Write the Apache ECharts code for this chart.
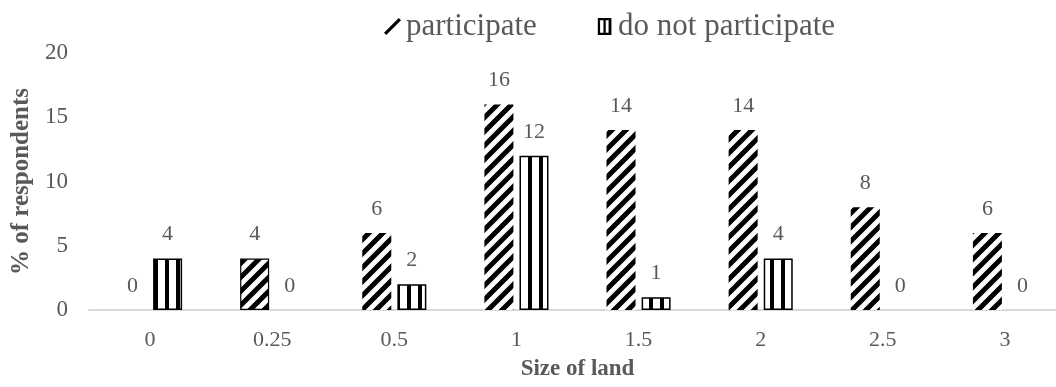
<!DOCTYPE html>
<html>
<head>
<meta charset="utf-8">
<style>
  html, body { margin: 0; padding: 0; background: #fff; }
  #chart { width: 1056px; height: 387px; }
</style>
<script src="https://cdn.jsdelivr.net/npm/echarts@6/dist/echarts.min.js"></script>
</head>
<body>
<div id="chart"></div>
<script>
// Share of respondents by size of land, split by participation
const categories = ['0', '0.25', '0.5', '1', '1.5', '2', '2.5', '3'];
const participate = [0, 4, 6, 16, 14, 14, 8, 6];
const notParticipate = [4, 0, 2, 12, 1, 4, 0, 0];
const seriesNames = ['participate', 'do not participate'];
const outlinedParticipate = ['0.25'];

const FONT = '"Liberation Serif", "Times New Roman", serif';
const GREY = '#595959';

// Diagonal hatch ("/") tile
function diagonalTile() {
  const s = 14;
  const c = document.createElement('canvas');
  c.width = s; c.height = s;
  const g = c.getContext('2d');
  g.fillStyle = '#fff';
  g.fillRect(0, 0, s, s);
  g.strokeStyle = '#000';
  g.lineWidth = 5;
  g.beginPath();
  g.moveTo(-2, s + 2); g.lineTo(s + 2, -2);
  g.moveTo(-2, 2); g.lineTo(2, -2);
  g.moveTo(s - 2, s + 2); g.lineTo(s + 2, s - 2);
  g.stroke();
  return c;
}

// Vertical stripe tile
function verticalTile() {
  const w = 11, h = 11;
  const c = document.createElement('canvas');
  c.width = w; c.height = h;
  const g = c.getContext('2d');
  g.fillStyle = '#fff';
  g.fillRect(0, 0, w, h);
  g.fillStyle = '#000';
  g.fillRect(0, 0, 4, h);
  return c;
}

const hatch = { image: diagonalTile(), repeat: 'repeat' };
const stripes = { image: verticalTile(), repeat: 'repeat' };

const participateData = participate.map((v, i) =>
  outlinedParticipate.includes(categories[i])
    ? { value: v, itemStyle: { borderColor: '#000', borderWidth: 1.2 } }
    : v
);
const notParticipateData = notParticipate.map(v =>
  v === 0 ? { value: v, itemStyle: { borderWidth: 0 } } : v
);

const labelStyle = {
  show: true,
  position: 'top',
  distance: 13,
  color: GREY,
  fontFamily: FONT,
  fontSize: 22
};

const chart = echarts.init(document.getElementById('chart'), null, { renderer: 'canvas' });
chart.setOption({
  animation: false,
  backgroundColor: '#fff',
  textStyle: { fontFamily: FONT },
  legend: {
    left: 379,
    top: 6,
    itemWidth: 17,
    itemHeight: 17,
    itemGap: 61,
    textStyle: { color: GREY, fontFamily: FONT, fontSize: 31 },
    data: [
      {
        name: seriesNames[0],
        icon: 'path://M0,13 L2,15 L15,2 L13,0 Z',
        itemStyle: { color: '#000', borderWidth: 0 }
      },
      {
        name: seriesNames[1],
        icon: 'path://M0,0 H12 V15 H0 Z M2,2 V13 H5 V2 Z M7,2 V13 H9.5 V2 Z',
        itemStyle: { color: '#000', borderWidth: 0 }
      }
    ]
  },
  grid: {
    left: 89,
    top: 53,
    width: 977,
    height: 257,
    containLabel: false,
    outerBoundsMode: 'none'
  },
  xAxis: {
    type: 'category',
    data: categories,
    name: 'Size of land',
    nameLocation: 'middle',
    nameGap: 48,
    nameTextStyle: { color: GREY, fontFamily: FONT, fontSize: 23, fontWeight: 'bold' },
    axisLine: { show: true, lineStyle: { color: '#d9d9d9', width: 2 } },
    axisTick: { show: false },
    axisLabel: { color: GREY, fontFamily: FONT, fontSize: 22, margin: 19 },
    splitLine: { show: false }
  },
  yAxis: {
    type: 'value',
    min: 0,
    max: 20,
    interval: 5,
    name: '% of respondents',
    nameLocation: 'middle',
    nameGap: 52,
    nameRotate: 90,
    nameTextStyle: { color: GREY, fontFamily: FONT, fontSize: 25, fontWeight: 'bold' },
    axisLine: { show: false },
    axisTick: { show: false },
    axisLabel: { color: GREY, fontFamily: FONT, fontSize: 23, margin: 21 },
    splitLine: { show: false }
  },
  series: [
    {
      name: seriesNames[0],
      type: 'bar',
      data: participateData,
      barWidth: 29,
      barGap: '21%',
      itemStyle: { color: hatch },
      label: labelStyle
    },
    {
      name: seriesNames[1],
      type: 'bar',
      data: notParticipateData,
      barWidth: 29,
      itemStyle: { color: stripes, borderColor: '#000', borderWidth: 1.5 },
      label: labelStyle
    }
  ]
});
</script>
</body>
</html>
